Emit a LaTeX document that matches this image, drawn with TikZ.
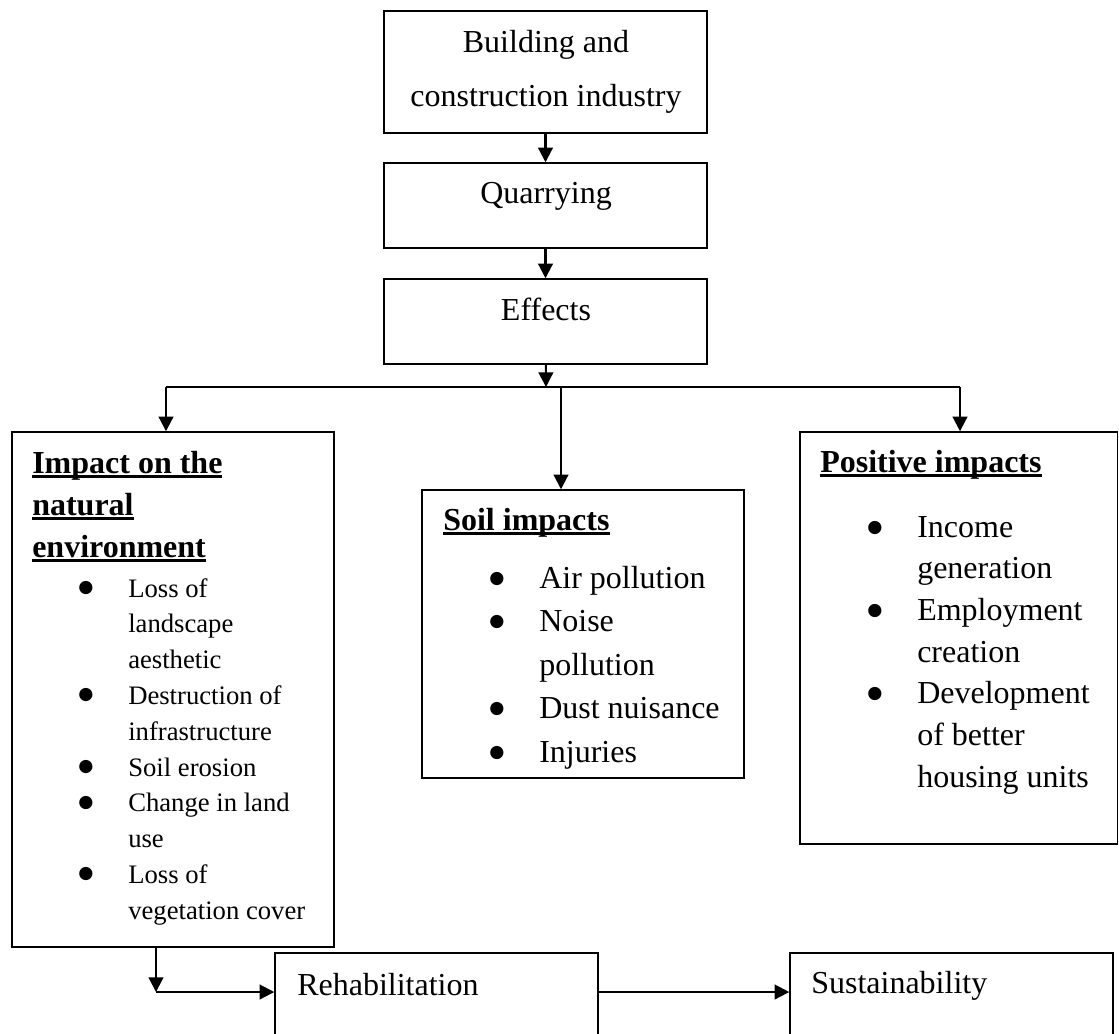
\documentclass[tikz,border=0pt]{standalone}
\usepackage{fontspec}
\setmainfont{Liberation Serif}
\newfontfamily\dvs{DejaVu Sans}
\usetikzlibrary{arrows.meta,fit}
\newcommand\hdul[1]{\setbox0\hbox{#1}\rlap{\vrule width \wd0 height -1.3pt depth 3.8pt}\box0}
\newcommand\bigsz{\fontsize{24pt}{24pt}\selectfont}
\newcommand\smsz{\fontsize{20pt}{20pt}\selectfont}
\newcommand\bull{\raisebox{3.6pt}{\dvs\fontsize{13pt}{13pt}\selectfont ●}}
\tikzset{
  box/.style={draw, line width=1.1pt, inner sep=0pt, rectangle},
  conn/.style={line width=1.6pt, -{Triangle[length=11pt,width=11pt]}},
  plainline/.style={line width=1.1pt},
  txt/.style={anchor=base west, inner sep=0pt, font=\bigsz},
  ctxt/.style={anchor=base, inner sep=0pt, font=\bigsz},
  stxt/.style={anchor=base west, inner sep=0pt, font=\smsz},
  bul/.style={anchor=base, inner sep=0pt},
}
\begin{document}
\begin{tikzpicture}[x=0.75pt,y=-0.75pt]
\useasboundingbox (0,0) rectangle (1119,1033);
\clip (0,0) rectangle (1119,1033);
% boxes
\node[box, fit={(384,11) (707,133)}] (build) {};
\node[box, fit={(384,163) (707,248)}] (quarry) {};
\node[box, fit={(384,279) (707,364)}] (effects) {};
\node[box, fit={(12,432) (334,947)}] (nat) {};
\node[box, fit={(422,490) (744,778)}] (soil) {};
\node[box, fit={(800,432) (1117.5,844)}] (pos) {};
\node[box, fit={(275,953) (598,1070)}] (rehab) {};
\node[box, fit={(790,953) (1113,1070)}] (sust) {};
% top texts
\node[ctxt] (t1) at (546,52) {Building and};
\node[ctxt] (t2) at (546,106) {construction industry};
\node[ctxt] (t3) at (546,203) {Quarrying};
\node[ctxt] (t4) at (546,320) {Effects};
% natural environment
\node[txt] (n1) at (32,473) {\bfseries\hdul{Impact on the}};
\node[txt] (n2) at (32,515) {\bfseries\hdul{natural}};
\node[txt] (n3) at (32,557) {\bfseries\hdul{environment}};
\node[bul] (nb1) at (86,597) {\bull};
\node[stxt] (ni1) at (128,597) {Loss of};
\node[stxt] (ni2) at (128,632.8) {landscape};
\node[stxt] (ni3) at (128,668.6) {aesthetic};
\node[bul] (nb2) at (86,704.4) {\bull};
\node[stxt] (ni4) at (128,704.4) {Destruction of};
\node[stxt] (ni5) at (128,740.2) {infrastructure};
\node[bul] (nb3) at (86,776) {\bull};
\node[stxt] (ni6) at (128,776) {Soil erosion};
\node[bul] (nb4) at (86,811.8) {\bull};
\node[stxt] (ni7) at (128,811.8) {Change in land};
\node[stxt] (ni8) at (128,847.6) {use};
\node[bul] (nb5) at (86,883.4) {\bull};
\node[stxt] (ni9) at (128,883.4) {Loss of};
\node[stxt] (ni10) at (128,919.2) {vegetation cover};
% soil impacts
\node[txt] (s0) at (443,530) {\bfseries\hdul{Soil impacts}};
\node[bul] (sb1) at (497,588) {\bull};
\node[txt] (s1) at (539,588) {Air pollution};
\node[bul] (sb2) at (497,631.5) {\bull};
\node[txt] (s2) at (539,631.5) {Noise};
\node[txt] (s3) at (539,675) {pollution};
\node[bul] (sb3) at (497,718.5) {\bull};
\node[txt] (s4) at (539,718.5) {Dust nuisance};
\node[bul] (sb4) at (497,762) {\bull};
\node[txt] (s5) at (539,762) {Injuries};
% positive impacts
\node[txt] (p0) at (820,472) {\bfseries\hdul{Positive impacts}};
\node[bul] (pb1) at (875,537) {\bull};
\node[txt] (p1) at (917,537) {Income};
\node[txt] (p2) at (917,578.7) {generation};
\node[bul] (pb2) at (875,620.3) {\bull};
\node[txt] (p3) at (917,620.3) {Employment};
\node[txt] (p4) at (917,662) {creation};
\node[bul] (pb3) at (875,703.7) {\bull};
\node[txt] (p5) at (917,703.7) {Development};
\node[txt] (p6) at (917,745.3) {of better};
\node[txt] (p7) at (917,787) {housing units};
% bottom
\node[txt] (r1) at (297,995) {Rehabilitation};
\node[txt] (u1) at (811,993) {Sustainability};
% connectors
\draw[conn] (build) -- (quarry);
\draw[conn] (quarry) -- (effects);
\coordinate (J) at (546,387);
\draw[conn] (effects) -- (J);
\coordinate (HL) at (166,387);
\coordinate (HR) at (960,387);
\coordinate (SJ) at (561,387);
\draw[plainline] (HL) -- (HR);
\draw[conn] (HL) -- (HL |- nat.north);
\draw[conn] (HR) -- (HR |- pos.north);
\draw[conn] (SJ) -- (SJ |- soil.north);
\coordinate (NB) at (156,992);
\draw[conn] (NB |- nat.south) -- (NB);
\draw[conn] (NB) -- (NB -| rehab.west);
\draw[conn] (NB -| rehab.east) -- (NB -| sust.west);
\end{tikzpicture}
\end{document}
